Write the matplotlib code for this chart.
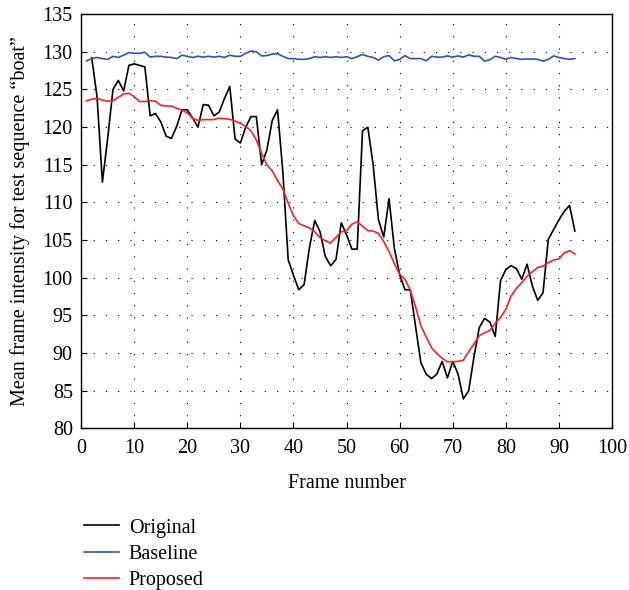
import matplotlib.pyplot as plt

plt.rcParams['font.family'] = ['Liberation Serif', 'DejaVu Serif']
plt.rcParams['font.size'] = 14.5

# frames 2..93
original_frames = list(range(2, 94))
original = [129.2, 124.0, 112.7, 118.5, 125.0, 126.2, 124.8, 128.2, 128.4,
            128.2, 128.0, 121.5, 121.8, 120.7, 118.8, 118.5, 120.1, 122.3,
            122.3, 121.2, 120.0, 123.0, 122.9, 121.5, 122.0, 123.8, 125.4,
            118.4, 117.9, 120.0, 121.4, 121.4, 115.0, 117.0, 120.9, 122.3,
            114.0, 102.4, 100.3, 98.4, 99.1, 104.0, 107.6, 106.1, 102.8,
            101.6, 102.4, 107.3, 105.7, 103.8, 103.8, 119.5, 120.0, 115.0,
            107.7, 105.4, 110.5, 103.9, 100.4, 98.4, 98.4, 93.5, 88.7, 87.2,
            86.6, 87.2, 88.9, 86.7, 88.9, 87.2, 83.9, 85.0, 89.5, 93.4, 94.6,
            94.1, 92.2, 99.6, 101.1, 101.6, 101.2, 99.8, 101.8, 98.9, 97.0,
            98.0, 105.1, 106.4, 107.7, 108.8, 109.6, 106.2]

# frames 1..93
frames = list(range(1, 94))
baseline = [128.8, 129.1, 129.25, 129.1, 129.0, 129.4, 129.25, 129.55, 129.9,
            129.8, 129.8, 129.95, 129.3, 129.4, 129.4, 129.3, 129.25, 129.1,
            129.55, 129.4, 129.25, 129.4, 129.3, 129.4, 129.3, 129.4, 129.25,
            129.55, 129.4, 129.4, 129.8, 130.1, 130.0, 129.45, 129.5, 129.7,
            129.75, 129.4, 129.1, 129.1, 129.0, 129.0, 129.1, 129.35, 129.25,
            129.35, 129.25, 129.35, 129.25, 129.35, 129.1, 129.35, 129.65,
            129.4, 129.25, 128.9, 129.35, 129.5, 128.8, 129.0, 129.5, 129.1,
            129.1, 129.1, 128.8, 129.4, 129.3, 129.3, 129.45, 129.3, 129.45,
            129.3, 129.6, 129.4, 129.4, 128.75, 128.95, 129.4, 129.25, 129.0,
            129.25, 129.1, 129.0, 129.05, 129.05, 129.0, 128.75, 129.0, 129.45,
            129.25, 129.1, 129.0, 129.1]
proposed = [123.5, 123.7, 123.8, 123.6, 123.45, 123.5, 123.95, 124.4, 124.5,
            124.05, 123.4, 123.4, 123.5, 123.45, 122.9, 122.8, 122.8, 122.5,
            122.25, 121.9, 121.15, 120.9, 121.0, 121.0, 121.0, 121.2, 121.1,
            121.05, 120.8, 120.5, 120.1, 119.5, 118.3, 116.5, 115.0, 114.2,
            112.9, 111.8, 109.9, 108.2, 107.2, 106.9, 106.6, 106.1, 105.35,
            104.9, 104.6, 105.35, 106.1, 106.25, 107.1, 107.45, 106.85, 106.25,
            106.2, 105.9, 104.8, 103.45, 101.9, 100.45, 99.8, 98.35, 96.15,
            93.6, 92.15, 90.7, 89.95, 89.3, 88.85, 88.85, 88.9, 89.05, 90.2,
            91.2, 92.3, 92.7, 93.0, 93.95, 94.75, 95.8, 97.6, 98.6, 99.35,
            100.2, 100.8, 101.35, 101.55, 102.0, 102.35, 102.5, 103.3, 103.6,
            103.15]

fig = plt.figure(figsize=(6.29, 5.90), dpi=100)
ax = fig.add_axes([0.129, 0.274, 0.844, 0.702])

ax.plot(original_frames, original, color='black', lw=1.2, label='Original')
ax.plot(frames, baseline, color='#2f54b4', lw=1.2, label='Baseline')
ax.plot(frames, proposed, color='#ff2020', lw=1.2, label='Proposed')

ax.set_xlim(0, 100)
ax.set_ylim(80, 135)
ax.set_xticks(range(0, 101, 10))
ax.set_yticks(range(80, 136, 5))
ax.tick_params(direction='in', length=4, pad=6)
ax.tick_params(axis='x', pad=8)
ax.grid(True, color='black', linestyle=(0, (1, 10)), linewidth=0.8)
for s in ax.spines.values():
    s.set_linewidth(1.0)

ax.set_xlabel('Frame number', labelpad=11)
ax.set_ylabel('Mean frame intensity for test sequence \u201cboat\u201d', labelpad=9)

fig.legend(loc='upper left', bbox_to_anchor=(0.12, 0.135), frameon=False,
           handlelength=1.75, handletextpad=0.5, labelspacing=0.36,
           borderaxespad=0)

fig.savefig('out.png', dpi=100)
